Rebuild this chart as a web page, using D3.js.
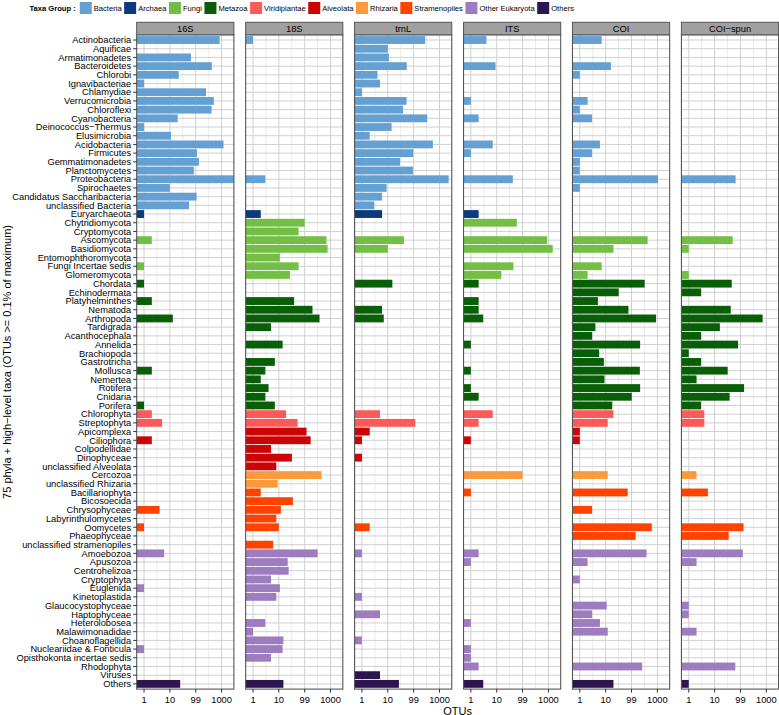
<!DOCTYPE html>
<html>
<head>
<meta charset="utf-8">
<script src="https://cdn.jsdelivr.net/npm/d3@7"></script>
<style>
  body { margin: 0; background: #fff; }
  svg text { font-family: "Liberation Sans", Arial, sans-serif; fill: #000; }
</style>
</head>
<body>
<svg id="chart" width="779" height="715"></svg>
<script>
// markers (facets)
const markers = ['16S', '18S', 'trnL', 'ITS', 'COI', 'COI\u2212spun'];

// taxa, top to bottom
const taxa = [
  'Actinobacteria', 'Aquificae', 'Armatimonadetes', 'Bacteroidetes', 'Chlorobi', 'Ignavibacteriae',
  'Chlamydiae', 'Verrucomicrobia', 'Chloroflexi', 'Cyanobacteria', 'Deinococcus\u2212Thermus',
  'Elusimicrobia', 'Acidobacteria', 'Firmicutes', 'Gemmatimonadetes', 'Planctomycetes',
  'Proteobacteria', 'Spirochaetes', 'Candidatus Saccharibacteria', 'unclassified Bacteria',
  'Euryarchaeota',
  'Chytridiomycota', 'Cryptomycota', 'Ascomycota', 'Basidiomycota', 'Entomophthoromycota',
  'Fungi Incertae sedis', 'Glomeromycota',
  'Chordata', 'Echinodermata', 'Platyhelminthes', 'Nematoda', 'Arthropoda', 'Tardigrada',
  'Acanthocephala', 'Annelida', 'Brachiopoda', 'Gastrotricha', 'Mollusca', 'Nemertea',
  'Rotifera', 'Cnidaria', 'Porifera',
  'Chlorophyta', 'Streptophyta',
  'Apicomplexa', 'Ciliophora', 'Colpodellidae', 'Dinophyceae', 'unclassified Alveolata',
  'Cercozoa', 'unclassified Rhizaria',
  'Bacillariophyta', 'Bicosoecida', 'Chrysophyceae', 'Labyrinthulomycetes', 'Oomycetes',
  'Phaeophyceae', 'unclassified stramenopiles',
  'Amoebozoa', 'Apusozoa', 'Centrohelizoa', 'Cryptophyta', 'Euglenida', 'Kinetoplastida',
  'Glaucocystophyceae', 'Haptophyceae', 'Heterolobosea', 'Malawimonadidae', 'Choanoflagellida',
  'Nucleariidae & Fonticula', 'Opisthokonta incertae sedis', 'Rhodophyta',
  'Viruses', 'Others'
];

// taxa groups and how many consecutive taxa belong to each
const groupNames = ['Bacteria', 'Archaea', 'Fungi', 'Metazoa', 'Viridiplantae', 'Alveolata',
  'Rhizaria', 'Stramenopiles', 'Other Eukaryota', 'Others'];
const groupCounts = [20, 1, 7, 15, 2, 5, 2, 7, 14, 2];
const groupColors = ['#64a0d2', '#0b3a7d', '#73bf45', '#085f08', '#fa5a5a', '#cb0505',
  '#fb9a3c', '#ff4200', '#9d7cc0', '#2d1550'];

// OTU counts per marker, same order as taxa (0 = none)
const otus16S = [
  840, 0, 65, 420, 22, 1, 250, 500, 410, 20, 1, 11, 1190, 111, 133, 85, 5000, 10, 108, 55,
  1,
  0, 0, 2, 0, 0, 1, 0,
  1, 0, 2, 0, 13, 0, 0, 0, 0, 0, 2, 0, 0, 0, 1,
  2, 5,
  0, 2, 0, 0, 0,
  0, 0,
  0, 0, 4, 0, 1, 0, 0,
  6, 0, 0, 0, 1, 0, 0, 0, 0, 0, 0, 1, 0, 0,
  0, 25
];
const otus18S = [
  1, 0, 0, 0, 0, 0, 0, 0, 0, 0, 0, 0, 0, 0, 0, 0, 3, 0, 0, 0,
  2,
  100, 58, 700, 770, 11, 58, 27,
  0, 0, 39, 200, 375, 5, 0, 14, 0, 7, 3, 2, 4, 3, 7,
  19, 53,
  118, 170, 5, 32, 8,
  450, 9,
  2, 35, 12, 8, 10, 0, 6,
  316, 22, 24, 5, 11, 8, 0, 0, 3, 1, 15, 14, 5, 0,
  0, 15
];
const otusTrnL = [
  281, 10, 11, 54, 4, 5, 1, 53, 39, 337, 14, 2, 556, 97, 30, 94, 2270, 9, 6, 3,
  6,
  0, 0, 42, 10, 0, 0, 0,
  15, 0, 0, 6, 7, 0, 0, 0, 0, 0, 0, 0, 0, 0, 0,
  5, 116,
  2, 1, 0, 1, 0,
  0, 0,
  0, 0, 0, 0, 2, 0, 0,
  1, 0, 0, 0, 0, 1, 0, 5, 0, 0, 1, 0, 0, 0,
  5, 27
];
const otusITS = [
  4, 0, 0, 9, 0, 0, 0, 1, 0, 2, 0, 0, 7, 1, 0, 0, 42, 0, 0, 0,
  2,
  60, 0, 890, 1470, 0, 44, 15,
  2, 0, 2, 2, 3, 0, 0, 1, 0, 0, 1, 0, 1, 2, 0,
  7, 2,
  0, 1, 0, 0, 0,
  100, 0,
  1, 0, 0, 0, 0, 0, 0,
  2, 1, 0, 0, 0, 0, 0, 0, 1, 0, 0, 1, 1, 2,
  0, 3
];
const otusCOI = [
  7, 0, 0, 16, 1, 0, 0, 2, 1, 3, 0, 0, 6, 3, 1, 1, 1060, 1, 0, 0,
  0,
  0, 0, 420, 20, 0, 7, 2,
  323, 32, 5, 76, 890, 4, 3, 215, 5.6, 8.5, 210, 9, 215, 102, 18,
  20, 12,
  1, 1, 0, 0, 0,
  12, 0,
  71, 0, 3, 0, 610, 144, 0,
  380, 2, 0, 1, 0, 0, 11, 3, 6, 12, 0, 0, 0, 258,
  0, 20
];
const otusCOIspun = [
  0, 0, 0, 0, 0, 0, 0, 0, 0, 0, 0, 0, 0, 0, 0, 0, 65, 0, 0, 0,
  0,
  0, 0, 50, 1, 0, 0, 1,
  46, 3, 0, 42, 720, 16, 3, 81, 1, 3, 32, 2, 138, 38, 3,
  4, 4,
  0, 0, 0, 0, 0,
  2, 0,
  5.5, 0, 0, 0, 131, 35, 0,
  123, 2, 0, 0, 0, 0, 1, 1, 0, 2, 0, 0, 0, 63,
  0, 1
];
const series = [otus16S, otus18S, otusTrnL, otusITS, otusCOI, otusCOIspun];

const xTicks = [1, 10, 100, 1000];
const xTickLabels = ['1', '10', '99', '1000'];
const xMinor = [Math.sqrt(10), Math.sqrt(10) * 10, Math.sqrt(10) * 100];

const yTitle = '75 phyla + high\u2212level taxa (OTUs >= 0.1% of maximum)';
const xTitle = 'OTUs';

// group of each taxon
const taxonGroup = [];
groupNames.forEach((g, i) => {
  for (let k = 0; k < groupCounts[i]; k++) taxonGroup.push(g);
});

const svg = d3.select('#chart');
const fontSize = 9.3;
const plotTop = 34.8, plotBottom = 689.1;

const y = d3.scalePoint().domain(taxa).range([plotTop, plotBottom]).padding(0.6);
const barH = y.step() * 0.9;
const panel = d3.scaleBand().domain(markers).range([136.7, 778.6]).paddingInner(0.108);
const x = d3.scaleLog().domain([0.52, 2985]).range([0, panel.bandwidth()]).clamp(true);
const color = d3.scaleOrdinal().domain(groupNames).range(groupColors);

markers.forEach((m, mi) => {
  const g = svg.append('g').attr('transform', `translate(${panel(m)},0)`);
  const w = panel.bandwidth();

  g.append('rect')
    .attr('y', plotTop).attr('width', w).attr('height', plotBottom - plotTop)
    .attr('fill', '#fff');

  // grid
  g.selectAll('.minor').data(xMinor).enter().append('line')
    .attr('x1', d => x(d)).attr('x2', d => x(d))
    .attr('y1', plotTop).attr('y2', plotBottom)
    .attr('stroke', '#e6e6e6').attr('stroke-width', 0.8);
  g.selectAll('.hgrid').data(taxa).enter().append('line')
    .attr('x1', 0).attr('x2', w)
    .attr('y1', d => y(d)).attr('y2', d => y(d))
    .attr('stroke', '#d0d0d0').attr('stroke-width', 1);
  g.selectAll('.major').data(xTicks).enter().append('line')
    .attr('x1', d => x(d)).attr('x2', d => x(d))
    .attr('y1', plotTop).attr('y2', plotBottom)
    .attr('stroke', '#d0d0d0').attr('stroke-width', 1);

  // bars
  const data = taxa.map((t, i) => ({ taxon: t, group: taxonGroup[i], value: series[mi][i] }))
    .filter(d => d.value > 0);
  g.selectAll('.bar').data(data).enter().append('rect')
    .attr('x', 0)
    .attr('y', d => y(d.taxon) - barH / 2)
    .attr('width', d => x(d.value))
    .attr('height', barH)
    .attr('fill', d => color(d.group));

  // panel border
  g.append('rect')
    .attr('y', plotTop).attr('width', w).attr('height', plotBottom - plotTop)
    .attr('fill', 'none').attr('stroke', '#555').attr('stroke-width', 1.1);

  // strip
  g.append('rect')
    .attr('y', 22.3).attr('width', w).attr('height', plotTop - 22.3)
    .attr('fill', '#a0a0a0').attr('stroke', '#555').attr('stroke-width', 1);
  g.append('text')
    .attr('x', w / 2).attr('y', 31.8)
    .attr('text-anchor', 'middle')
    .style('font-size', fontSize + 'px')
    .text(m);

  // x axis
  g.selectAll('.xtick').data(xTicks).enter().append('line')
    .attr('x1', d => x(d)).attr('x2', d => x(d))
    .attr('y1', plotBottom).attr('y2', plotBottom + 3.5)
    .attr('stroke', '#333');
  g.selectAll('.xlab').data(xTicks).enter().append('text')
    .attr('x', d => x(d)).attr('y', 702.5)
    .attr('text-anchor', 'middle')
    .style('font-size', fontSize + 'px')
    .text((d, i) => xTickLabels[i]);
});

// y axis on the first panel
const left = panel(markers[0]);
svg.selectAll('.ytick').data(taxa).enter().append('line')
  .attr('x1', left - 3.5).attr('x2', left)
  .attr('y1', d => y(d)).attr('y2', d => y(d))
  .attr('stroke', '#333');
svg.selectAll('.ylab').data(taxa).enter().append('text')
  .attr('x', left - 5.5).attr('y', d => y(d))
  .attr('dy', '0.35em')
  .attr('text-anchor', 'end')
  .style('font-size', fontSize + 'px')
  .text(d => d);

// axis titles
svg.append('text')
  .attr('transform', `translate(11,${(plotTop + plotBottom) / 2}) rotate(-90)`)
  .attr('text-anchor', 'middle')
  .style('font-size', '11px')
  .text(yTitle);
svg.append('text')
  .attr('x', (panel(markers[0]) + panel(markers[5]) + panel.bandwidth()) / 2)
  .attr('y', 714.5)
  .attr('text-anchor', 'middle')
  .style('font-size', '11px')
  .text(xTitle);

// legend on top
const legendFont = 7.6;
const legend = svg.append('g');
const title = legend.append('text')
  .attr('y', 10.5).style('font-size', legendFont + 'px')
  .style('font-weight', 'bold')
  .text('Taxa Group :');
let cx = title.node().getComputedTextLength() + 4;
groupNames.forEach((gname, i) => {
  legend.append('rect')
    .attr('x', cx).attr('y', 2).attr('width', 12).attr('height', 12)
    .attr('fill', groupColors[i]);
  const t = legend.append('text')
    .attr('x', cx + 14).attr('y', 10.5)
    .style('font-size', legendFont + 'px')
    .text(gname);
  cx += 14 + t.node().getComputedTextLength() + 2.5;
});
legend.attr('transform', `translate(${303 - cx / 2},0)`);
</script>
</body>
</html>
